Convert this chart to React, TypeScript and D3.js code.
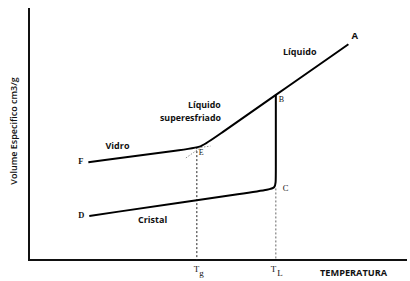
import React from "react";
import * as d3 from "d3";

// Arbitrary temperature / specific-volume units
const glassLiquidT = [15.7, 42.0, 45.5, 49.0, 65.3, 84.5];
const glassLiquidV = [38.8, 44.0, 44.7, 48.4, 65.5, 85.6];
const crystalT = [15.95, 62.5, 65.3, 65.3, 65.3];
const crystalV = [17.5, 27.7, 28.4, 32.0, 65.5];
const liquidExtT = [41.5, 45.5];
const liquidExtV = [40.5, 44.7];
const glassExtT = [45.5, 48.0];
const glassExtV = [44.7, 45.2];
const Tg = 44.4;
const TgV = 44.8;
const TL = 65.3;
const TLV = 28.4;
const pointNames = ["F", "E", "B", "A", "D", "C"];
const pointT = [15.7, 44.4, 65.3, 84.5, 15.95, 65.3];
const pointV = [38.8, 44.8, 65.5, 85.6, 17.5, 28.4];

const W = 410;
const H = 281;

export default function App() {
  const x = d3.scaleLinear().domain([0, 100]).range([29, 407]);
  const y = d3.scaleLinear().domain([0, 100]).range([260, 8]);
  const line = d3
    .line<[number, number]>()
    .x((d) => x(d[0]))
    .y((d) => y(d[1]))
    .curve(d3.curveBasis);
  const straight = d3
    .line<[number, number]>()
    .x((d) => x(d[0]))
    .y((d) => y(d[1]));
  const zip = (a: number[], b: number[]) =>
    a.map((v, i) => [v, b[i]] as [number, number]);

  const sans = "'Open Sans', 'DejaVu Sans', sans-serif";
  const serif = "'Liberation Serif', 'DejaVu Serif', serif";
  const lbl = { fontFamily: sans, fontWeight: 700, fontSize: 9, fill: "#111" } as const;
  const ser = { fontFamily: serif, fontSize: 8.5, fill: "#111" } as const;

  const p = (name: string) => {
    const i = pointNames.indexOf(name);
    return [x(pointT[i]), y(pointV[i])];
  };
  const [Fx, Fy] = p("F");
  const [Ex, Ey] = p("E");
  const [Bx, By] = p("B");
  const [Ax, Ay] = p("A");
  const [Dx, Dy] = p("D");
  const [Cx, Cy] = p("C");

  return (
    <svg
      width={W}
      height={H}
      style={{ position: "absolute", left: 0, top: 0, background: "#fff" }}
    >
      {/* axes */}
      <line x1={x(0)} y1={8} x2={x(0)} y2={y(0) + 1} stroke="#111" strokeWidth={2} />
      <line x1={x(0) - 1} y1={y(0)} x2={407} y2={y(0)} stroke="#111" strokeWidth={2} />

      {/* dashed verticals */}
      <line x1={x(Tg)} y1={y(TgV)} x2={x(Tg)} y2={y(0)} stroke="#222" strokeWidth={1} strokeDasharray="2,2" />
      <line x1={x(TL)} y1={y(TLV)} x2={x(TL)} y2={y(0)} stroke="#666" strokeWidth={1} strokeDasharray="2,2" />

      {/* dotted extrapolations */}
      <path d={straight(zip(liquidExtT, liquidExtV)) || ""} fill="none" stroke="#777" strokeWidth={0.8} strokeDasharray="1.5,1.5" />
      <path d={straight(zip(glassExtT, glassExtV)) || ""} fill="none" stroke="#777" strokeWidth={0.8} strokeDasharray="1.5,1.5" />

      {/* curves */}
      <path d={line(zip(glassLiquidT, glassLiquidV)) || ""} fill="none" stroke="#000" strokeWidth={2} />
      <path d={line(zip(crystalT, crystalV)) || ""} fill="none" stroke="#000" strokeWidth={2} />

      {/* point letters */}
      <text x={Fx - 10} y={Fy + 2} style={{ ...ser, fontWeight: 700 }}>F</text>
      <text x={Ex + 2} y={Ey + 8} style={{ ...ser, fontSize: 8 }}>E</text>
      <text x={Bx + 3} y={By + 7} style={{ ...ser, fontSize: 8 }}>B</text>
      <text x={Ax + 3} y={Ay - 5} style={{ ...lbl, fontSize: 9.5 }}>A</text>
      <text x={Dx - 11} y={Dy + 2} style={{ ...ser, fontWeight: 700 }}>D</text>
      <text x={Cx + 7} y={Cy + 3} style={ser}>C</text>

      {/* region labels */}
      <text x={283} y={55} style={lbl}>Líquido</text>
      <text x={188} y={108} style={{ ...lbl, fontSize: 8.8 }}>Líquido</text>
      <text x={160} y={120.5} style={{ ...lbl, fontSize: 8.8 }}>superesfriado</text>
      <text x={105.5} y={149} style={lbl}>Vidro</text>
      <text x={138} y={223} style={lbl}>Cristal</text>

      {/* axis tick labels */}
      <text x={x(Tg) - 3} y={272} style={{ ...ser, fontSize: 9 }}>
        T<tspan dy={4} fontSize={9}>g</tspan>
      </text>
      <text x={x(TL) - 5} y={272} style={{ ...ser, fontSize: 9 }}>
        T<tspan dx={1} dy={4} fontSize={9}>L</tspan>
      </text>

      <text x={320} y={276} style={{ ...lbl, fontSize: 9.2 }}>TEMPERATURA</text>
      <text
        transform={`translate(17,131) rotate(-90)`}
        textAnchor="middle"
        style={{ ...lbl, fontWeight: 600, fontSize: 9 }}
      >
        Volume Especifico cm3/g
      </text>
    </svg>
  );
}
